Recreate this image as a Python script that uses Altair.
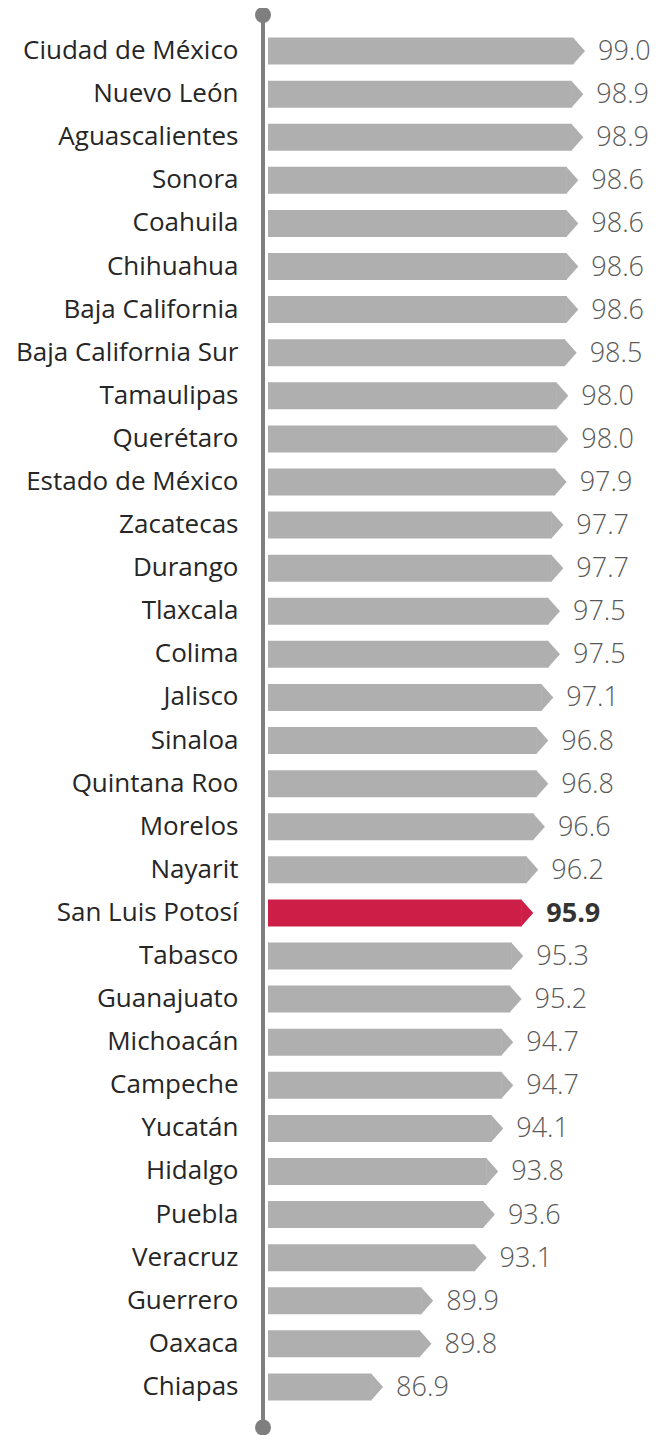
import altair as alt
import pandas as pd

states = ["Ciudad de México", "Nuevo León", "Aguascalientes", "Sonora", "Coahuila",
          "Chihuahua", "Baja California", "Baja California Sur\u00a0", "Tamaulipas", "Querétaro",
          "Estado de México", "Zacatecas", "Durango", "Tlaxcala", "Colima", "Jalisco",
          "Sinaloa", "Quintana Roo", "Morelos", "Nayarit", "San Luis Potosí", "Tabasco",
          "Guanajuato", "Michoacán", "Campeche", "Yucatán", "Hidalgo", "Puebla",
          "Veracruz", "Guerrero", "Oaxaca", "Chiapas"]
values = [99.0, 98.9, 98.9, 98.6, 98.6, 98.6, 98.6, 98.5, 98.0, 98.0, 97.9, 97.7, 97.7,
          97.5, 97.5, 97.1, 96.8, 96.8, 96.6, 96.2, 95.9, 95.3, 95.2, 94.7, 94.7, 94.1,
          93.8, 93.6, 93.1, 89.9, 89.8, 86.9]
highlight = "San Luis Potosí"
axis_min = 80
axis_max = 99

df = pd.DataFrame({"state": states, "value": values})
df["base"] = axis_min
df["hl"] = ["y" if s == highlight else "n" for s in states]
df["label"] = [f"{v:.1f}" for v in values]
df["lab_n"] = [("" if h == "y" else l) for h, l in zip(df["hl"], df["label"])]
df["lab_y"] = [(l if h == "y" else "") for h, l in zip(df["hl"], df["label"])]

W = 317
H = 1379

yenc = alt.Y("state:N", sort=states,
             scale=alt.Scale(paddingInner=0.374, paddingOuter=0.187),
             axis=alt.Axis(title=None, domain=False, ticks=False, grid=False,
                           labelPadding=30, labelFontSize=26, labelFont="Open Sans",
                           labelColor="#262626", labelLimit=0))
xenc = alt.X("value:Q", scale=alt.Scale(domain=[axis_min, axis_max]), axis=None)
color = alt.Color("hl:N", scale=alt.Scale(domain=["n", "y"], range=["#afafaf", "#cd1e47"]),
                  legend=None)

base = alt.Chart(df)

bars = base.mark_bar(xOffset=-11.5).encode(
    x=xenc, x2="base:Q", y=yenc, color=color,
)

tips = base.mark_point(shape="M-0.89,-1L0,0L-0.89,1Z", size=729, filled=True,
                       opacity=1, strokeWidth=0).encode(
    x=xenc, y=yenc, color=color,
)

labels = base.mark_text(
    align="left", baseline="middle", dx=13, dy=1, fontSize=27, font="Open Sans",
    fontWeight=300, color="#595959").encode(
    x=xenc, y=yenc, text="lab_n:N",
)

labels_hl = base.mark_text(
    align="left", baseline="middle", dx=13, dy=1, fontSize=27, font="Open Sans",
    fontWeight="bold", color="#333333").encode(
    x=xenc, y=yenc, text="lab_y:N",
)

one = pd.DataFrame({"k": [0]})
rule = alt.Chart(one).mark_rule(color="#7f7f7f", strokeWidth=4).encode(
    x=alt.value(-5), y=alt.value(-14.5), y2=alt.value(H + 19))
dot_top = alt.Chart(one).mark_circle(color="#7f7f7f", size=256, opacity=1).encode(
    x=alt.value(-5), y=alt.value(-14.5))
dot_bot = alt.Chart(one).mark_circle(color="#7f7f7f", size=256, opacity=1).encode(
    x=alt.value(-5), y=alt.value(H + 19))

chart = alt.layer(bars, tips, labels, labels_hl, rule, dot_top, dot_bot).properties(
    width=W, height=H,
    autosize=alt.AutoSizeParams(type="none"),
    padding={"left": 260, "top": 21.5, "right": 65, "bottom": 27},
).configure_view(stroke=None)

chart.save("out.html", embed_options={"renderer": "svg", "actions": False})
